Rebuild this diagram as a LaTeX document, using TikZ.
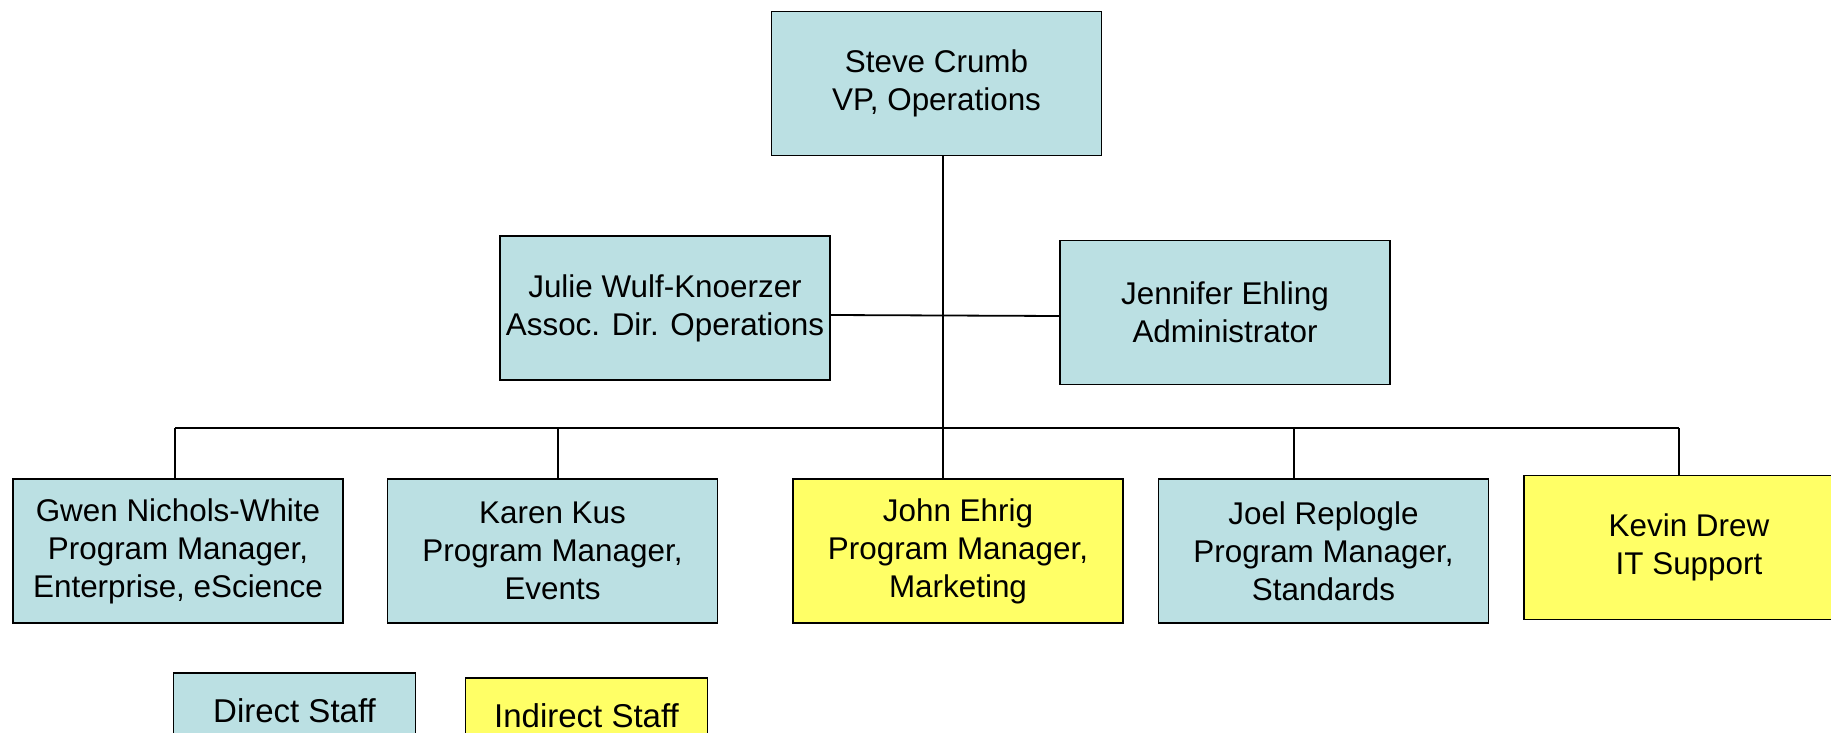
\documentclass[tikz,border=0pt]{standalone}
\usepackage{fontspec}
\setmainfont{Liberation Sans}
\definecolor{direct}{HTML}{BBE0E3}
\definecolor{indirect}{HTML}{FFFF66}
\tikzset{
	staff/.style={draw, line width=.9pt, fill=direct, minimum width=165pt, minimum height=72pt,
		inner sep=0pt, align=center, font=\fontsize{15.7}{19}\selectfont},
	extra/.style={staff, fill=indirect},
	key/.style={minimum width=121pt, minimum height=38pt, font=\fontsize{16.5}{19}\selectfont},
	link/.style={line width=.9pt}
}
\begin{document}
\begin{tikzpicture}[x=.5pt,y=-.5pt]
		\clip (0,0) rectangle (1831,733);
		%head
			\node[staff] (steve) at (936.5,83.5) {Steve Crumb\\VP, Operations};
		% office
			\node[staff] (julie)    at (665,308)    {Julie Wulf-Knoerzer\\Assoc. Dir. Operations};
			\node[staff] (jennifer) at (1225,312.5) {Jennifer Ehling\\Administrator};
		% program managers
			\node[staff] (gwen)  at (178,551)    {Gwen Nichols-White\\Program Manager,\\Enterprise, eScience};
			\node[staff] (karen) at (552.5,551)  {Karen Kus\\Program Manager,\\Events};
			\node[extra] (john)  at (958,551)    {John Ehrig\\Program Manager,\\Marketing};
			\node[staff] (joel)  at (1323.5,551) {Joel Replogle\\Program Manager,\\Standards};
			\node[extra] (kevin) at (1689,547.5) {Kevin Drew\\IT Support};
		% legend
			\node[staff,key] (direct)   at (294.5,711) {Direct Staff};
			\node[extra,key] (indirect) at (586.5,716) {Indirect Staff};
		% lines
		 \path	(943,428)  coordinate (bus)
		 		(175,428)  coordinate (gwen-c)
		 		(558,428)  coordinate (karen-c)
		 		(1294,428) coordinate (joel-c)
		 		(1679,428) coordinate (kevin-c);
			\draw[link] (bus |- steve.south) -- (bus |- john.north);
			\draw[link] (gwen-c) -- (kevin-c);
			\foreach \n in {gwen,karen,joel,kevin}{
				\draw[link] (\n-c) -- (\n-c |- \n.north);
				}
			\draw[link] ([yshift=-3.5pt]julie.east) -- ([yshift=-1.75pt]jennifer.west);
	\end{tikzpicture}
\end{document}
